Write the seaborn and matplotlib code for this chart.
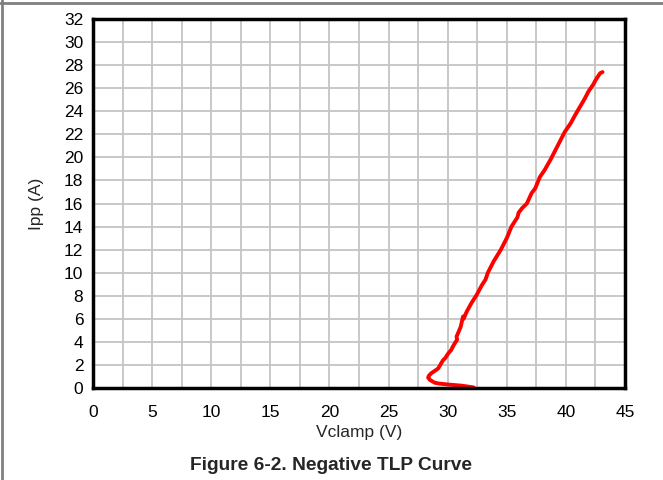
import pandas as pd
import seaborn as sns
import matplotlib.pyplot as plt
from matplotlib.lines import Line2D

# --- Dane (V, A) ---
vclamp = [32.2, 31.2, 30.05, 29.3, 28.9, 28.5, 28.35, 28.4, 28.6, 29.0, 29.2,
          29.6, 29.8, 30.05, 30.3, 30.5, 30.8, 30.75, 31.1, 31.3, 31.35, 31.6,
          32.0, 32.45, 32.9, 33.2, 33.4, 33.9, 34.5, 35.0, 35.4, 35.9, 36.0,
          36.3, 36.7, 37.1, 37.4, 37.8, 38.2, 38.7, 39.1, 39.5, 39.9, 40.4,
          40.8, 41.2, 41.6, 41.9, 42.3, 42.6, 42.9, 43.1]
ipp = [0.05, 0.2, 0.3, 0.38, 0.46, 0.7, 0.9, 1.05, 1.27, 1.55, 1.7,
       2.4, 2.6, 3.0, 3.3, 3.7, 4.2, 4.45, 5.3, 6.2, 6.0, 6.6,
       7.35, 8.07, 8.93, 9.4, 10.0, 11.0, 12.0, 13.0, 14.0, 14.8, 15.2,
       15.6, 16.0, 16.9, 17.3, 18.3, 18.9, 19.8, 20.6, 21.4, 22.2, 22.95,
       23.7, 24.4, 25.1, 25.7, 26.3, 26.85, 27.3, 27.4]

df = pd.DataFrame({"vclamp": vclamp, "ipp": ipp})

sns.set_style("white")
plt.rcParams["font.family"] = ["Liberation Sans", "DejaVu Sans"]

fig = plt.figure(figsize=(6.63, 4.8), dpi=100)
ax = fig.add_axes([93 / 663, 1 - 388 / 480, 532 / 663, 369 / 480])

sns.lineplot(data=df, x="vclamp", y="ipp", sort=False, estimator=None,
             color="#ff0000", linewidth=2.8, ax=ax)

ax.set_xlim(0, 45)
ax.set_ylim(0, 32)
ax.set_xticks(range(0, 46, 5))
ax.set_yticks(range(0, 33, 2))
ax.set_xticks([2.5 + 5 * i for i in range(9)], minor=True)
ax.grid(which="both", axis="x", color="#c4c4c4", linewidth=1.3)
ax.grid(which="major", axis="y", color="#c4c4c4", linewidth=1.3)
ax.tick_params(which="both", length=0, labelsize=12.5, colors="black")
ax.tick_params(axis="x", pad=12)
ax.tick_params(axis="y", pad=7)
for s in ax.spines.values():
    s.set_color("black")
    s.set_linewidth(2.5)

ax.set_xlabel("Vclamp (V)", fontsize=12.5, labelpad=4)
ax.set_ylabel("Ipp (A)", fontsize=12.5, labelpad=14)

fig.text(0.5, 1 - 466 / 480, "Figure 6-2. Negative TLP Curve", ha="center",
         va="center", fontsize=13.8, fontweight="bold")

# ramka wokół rysunku (góra i lewa strona)
fig.add_artist(Line2D([0, 1], [1 - 2.5 / 480, 1 - 2.5 / 480], color="#808080", lw=2))
fig.add_artist(Line2D([1.5 / 663, 1.5 / 663], [0, 1], color="#808080", lw=2))

fig.savefig("out.png", dpi=100)
